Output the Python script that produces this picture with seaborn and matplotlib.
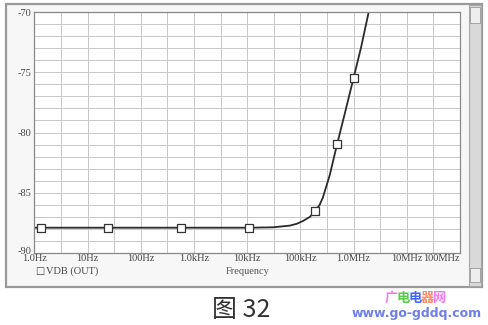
import numpy as np
import pandas as pd
import matplotlib
matplotlib.use("Agg")
import matplotlib.pyplot as plt
from matplotlib.patches import Rectangle
import matplotlib.transforms as mtrans
import seaborn as sns

# ---- data ----
curve_freq = [1.0, 1.3, 24, 577, 11e3, 30e3, 63e3, 86e3, 112e3, 152e3, 187e3,
              229e3, 264e3, 355e3, 490e3, 676e3, 1.0e6, 1.37e6, 1.9e6]
curve_db = [-87.9, -87.9, -87.9, -87.9, -87.9, -87.87, -87.73, -87.57, -87.34,
            -86.99, -86.49, -86.02, -85.40, -83.55, -80.95, -78.5, -75.45,
            -73.0, -70.1]
marker_freq = [1.3, 24, 577, 11e3, 187e3, 490e3, 1.0e6]
marker_db = [-87.9, -87.9, -87.9, -87.9, -86.49, -80.95, -75.45]
x_tick_vals = [1, 10, 100, 1e3, 1e4, 1e5, 1e6, 1e7, 1e8]
x_tick_labels = ["1.0Hz", "10Hz", "100Hz", "1.0kHz", "10kHz", "100kHz",
                 "1.0MHz", "10MHz", "100MHz"]
y_tick_vals = [-90, -85, -80, -75, -70]
y_tick_labels = ["-90", "-85", "-80", "-75", "-70"]

curve = pd.DataFrame({"f": curve_freq, "db": curve_db})
marks = pd.DataFrame({"f": marker_freq, "db": marker_db})

sns.set_style("white")
plt.rcParams['font.family'] = ['Liberation Serif', 'DejaVu Sans']

W, H = 489, 325
fig = plt.figure(figsize=(W / 100, H / 100), dpi=100)
fig.patch.set_facecolor("white")

def px(x0, y0, x1, y1):
    return [x0 / W, 1 - y1 / H, (x1 - x0) / W, (y1 - y0) / H]

# window frame
frame = fig.add_axes([0, 0, 1, 1], zorder=0)
frame.set_xlim(0, W); frame.set_ylim(H, 0); frame.axis("off")
frame.add_patch(Rectangle((6, 4), 476, 283, facecolor="#f7f7f7",
                          edgecolor="#9a9a9a", lw=1.6))
# scroll bar
frame.add_patch(Rectangle((469, 5), 12, 281, facecolor="#d9d9d9",
                          edgecolor="#a8a8a8", lw=0.8))
frame.add_patch(Rectangle((470, 7), 10, 16, facecolor="#eeeeee",
                          edgecolor="#999999", lw=0.6))
frame.add_patch(Rectangle((470, 268), 10, 14, facecolor="#eeeeee",
                          edgecolor="#999999", lw=0.6))

ax = fig.add_axes(px(34.5, 12, 460, 253), zorder=1)
ax.set_facecolor("white")
sns.lineplot(data=curve, x="f", y="db", ax=ax, color="#2a2a2a", lw=1.3,
             estimator=None, sort=False)
sns.scatterplot(data=marks, x="f", y="db", ax=ax, marker="s", s=28,
                facecolor="white", edgecolor="#333333", linewidth=0.9, zorder=5)
ax.set_xscale("log")
ax.set_xlim(1, 1e8)
ax.set_ylim(-90, -70)

# grid: every half decade, every 1 dB
for k in range(1, 16):
    ax.axvline(10 ** (k / 2), color="#c8c8c8", lw=0.7, zorder=0)
for v in range(-89, -70):
    ax.axhline(v, color="#c8c8c8", lw=0.7, zorder=0)

ax.set_xticks(x_tick_vals)
ax.set_xticklabels(x_tick_labels)
ax.xaxis.set_minor_locator(matplotlib.ticker.NullLocator())
ax.set_yticks(y_tick_vals)
ax.set_yticklabels(y_tick_labels)
ax.tick_params(axis="both", labelsize=7.5, colors="#555555", length=3,
               direction="in", labelcolor="#444444")
ax.tick_params(axis="x", pad=1)
ax.tick_params(axis="y", pad=2)
ax.get_xticklabels()[-1].set_horizontalalignment("right")
lab90 = ax.get_yticklabels()[0]
lab90.set_transform(lab90.get_transform() +
                    mtrans.ScaledTranslation(0, 3 / 100, fig.dpi_scale_trans))
ax.set_xlabel(""); ax.set_ylabel("")
for s in ax.spines.values():
    s.set_color("#888888"); s.set_linewidth(0.9)

# bottom texts
frame.text(35, 271, "\u25a1", fontsize=7, color="#444444", va="center",
           ha="left", family="DejaVu Sans")
frame.text(46, 271, "VDB (OUT)", fontsize=7.5, color="#444444", va="center",
           ha="left")
frame.text(248, 271, "Frequency", fontsize=7.5, color="#555555", va="center",
           ha="center")
frame.text(241, 310, "图 32", fontsize=18, color="#333333", va="center",
           ha="center", family=["Noto Sans CJK SC", "DejaVu Sans"])
wm_chars = ["广", "电", "电", "器", "网"]
wm_cols = ["#f07af0", "#55cc44", "#4466ff", "#ff8866", "#f07af0"]
for i, (c, col) in enumerate(zip(wm_chars, wm_cols)):
    frame.text(385 + i * 12, 298, c, fontsize=9.5, color=col, va="center",
               ha="left", weight="bold", family=["Noto Sans CJK SC"])
frame.text(417, 314, "www.go-gddq.com", fontsize=9, color="#6f7fe8",
           va="center", ha="center", weight="bold", family=["DejaVu Sans"])

fig.savefig("out.png", dpi=100)
